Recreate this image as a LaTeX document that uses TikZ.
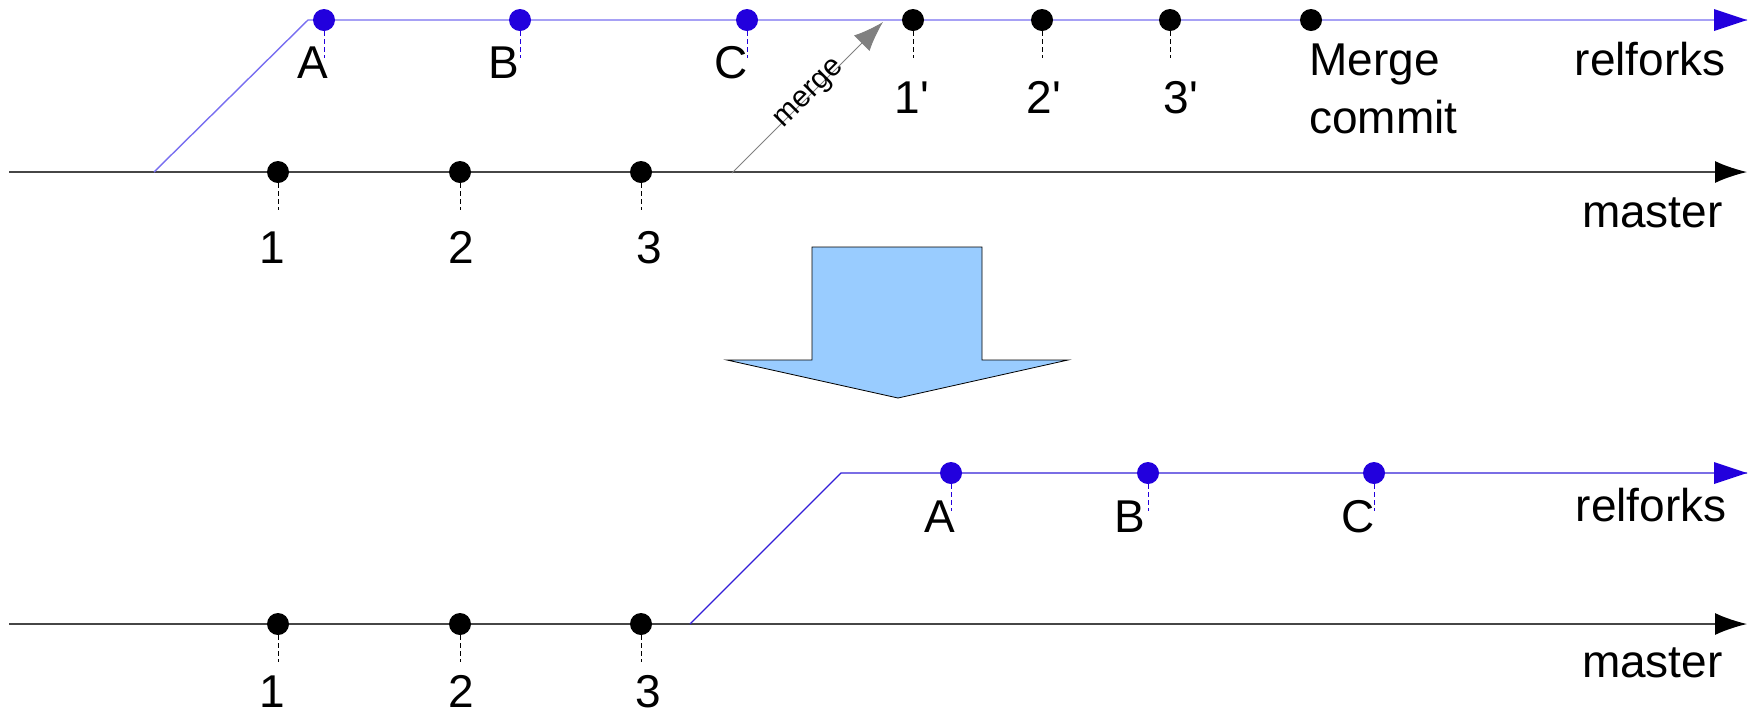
\documentclass[tikz,border=0pt]{standalone}
\usepackage{fontspec}
\setmainfont{Liberation Sans}
\usetikzlibrary{arrows.meta}
\definecolor{dotblue}{RGB}{34,0,221}
\definecolor{toprel}{RGB}{120,110,240}
\definecolor{botrel}{RGB}{50,30,215}
\definecolor{bigblue}{RGB}{153,204,255}
\definecolor{mastergray}{RGB}{70,70,70}
\newcommand\labfont{\fontsize{23}{29}\selectfont}
\tikzset{
  bdot/.style={circle, fill=dotblue, inner sep=0pt, minimum size=11pt},
  kdot/.style={circle, fill=black, inner sep=0pt, minimum size=11pt},
  lab/.style={font=\labfont, inner sep=0pt, anchor=base},
  dashk/.style={draw=black, line width=0.4pt, dash pattern=on 2.5pt off 1.5pt},
  dashb/.style={draw=dotblue, line width=0.4pt, dash pattern=on 2.5pt off 1.5pt},
  masterline/.style={draw=mastergray, line width=0.8pt, arrows={-{Latex[color=black,length=16pt,width=11pt]}}},
  relline/.style={line width=0.7pt},
}
\begin{document}
\begin{tikzpicture}[x=0.5pt, y=-0.5pt]
\useasboundingbox (0,0) rectangle (1758,714);

% ---------- top part ----------
\coordinate (tms) at (9,172);
\coordinate (tme) at (1747,172);
\coordinate (tfork) at (154,172);
\coordinate (tbend) at (308,20);
\coordinate (tre) at (1747,20);
\draw[masterline] (tms) -- (tme);
\draw[draw=toprel, relline] (tfork) -- (tbend) -- (tre);
\fill[dotblue] (1714,9) -- (1747,20) -- (1714,31) -- cycle;

% master commits
\node[kdot] (t1) at (278,172) {};
\node[kdot] (t2) at (460,172) {};
\node[kdot] (t3) at (641,172) {};
\foreach \n in {t1,t2,t3} \draw[dashk] (\n.south) -- ++(0,27);
\node[lab] (lt1) at (272,263) {1};
\node[lab] (lt2) at (461,263) {2};
\node[lab] (lt3) at (649,263) {3};

% relforks commits
\node[bdot] (tA) at (324,20) {};
\node[bdot] (tB) at (520,20) {};
\node[bdot] (tC) at (747,20) {};
\foreach \n in {tA,tB,tC} \draw[dashb] (\n.south) -- ++(0,27);
\node[lab] (ltA) at (313,78) {A};
\node[lab] (ltB) at (504,78) {B};
\node[lab] (ltC) at (731,78) {C};

\node[kdot] (t1p) at (913,20) {};
\node[kdot] (t2p) at (1042,20) {};
\node[kdot] (t3p) at (1170,20) {};
\node[kdot] (tmc) at (1311,20) {};
\foreach \n in {t1p,t2p,t3p} \draw[dashk] (\n.south) -- ++(0,27);
\node[lab] (lt1p) at (912,113) {1\textquotesingle};
\node[lab] (lt2p) at (1044,113) {2\textquotesingle};
\node[lab] (lt3p) at (1181,113) {3\textquotesingle};
\node[lab, anchor=base west] (lmc1) at (1309,75) {Merge};
\node[lab, anchor=base west] (lmc2) at (1309,133) {commit};

\node[lab, anchor=base east] (ltrel) at (1726,75) {relforks};
\node[lab, anchor=base east] (ltmas) at (1723,227) {master};

% merge arrow
\coordinate (mfrom) at (732,173);
\coordinate (mto) at (883,22);
\draw[draw=gray, line width=0.5pt, -{Latex[length=15pt,width=11pt]}] (mfrom) -- node[sloped, pos=0.52, inner sep=0pt, font=\fontsize{15}{18}\selectfont] (mlab) {merge} (mto);

% ---------- big arrow ----------
\draw[fill=bigblue, draw=black, line width=0.4pt]
  (812,247) -- (982,247) -- (982,360) -- (1068,360) -- (898,398) -- (727,360) -- (812,360) -- cycle;

% ---------- bottom part ----------
\coordinate (bms) at (9,624);
\coordinate (bme) at (1747,624);
\coordinate (bfork) at (690,624);
\coordinate (bbend) at (841,473);
\coordinate (bre) at (1747,473);
\draw[masterline] (bms) -- (bme);
\draw[draw=botrel, line width=0.6pt] (bfork) -- (bbend) -- (bre);
\fill[dotblue] (1714,462) -- (1747,473) -- (1714,484) -- cycle;

\node[kdot] (b1) at (278,624) {};
\node[kdot] (b2) at (460,624) {};
\node[kdot] (b3) at (641,624) {};
\foreach \n in {b1,b2,b3} \draw[dashk] (\n.south) -- ++(0,27);
\node[lab] (lb1) at (272,707) {1};
\node[lab] (lb2) at (461,707) {2};
\node[lab] (lb3) at (648,707) {3};

\node[bdot] (bA) at (951,473) {};
\node[bdot] (bB) at (1148,473) {};
\node[bdot] (bC) at (1374,473) {};
\foreach \n in {bA,bB,bC} \draw[dashb] (\n.south) -- ++(0,27);
\node[lab] (lbA) at (940,532) {A};
\node[lab] (lbB) at (1130,532) {B};
\node[lab] (lbC) at (1358,532) {C};

\node[lab, anchor=base east] (lbrel) at (1727,521) {relforks};
\node[lab, anchor=base east] (lbmas) at (1723,677) {master};
\end{tikzpicture}
\end{document}
